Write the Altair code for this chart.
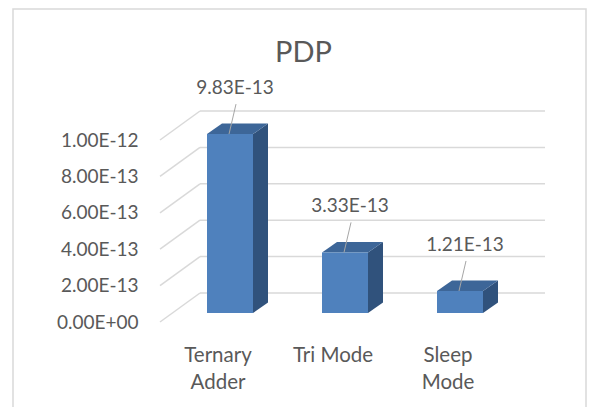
import json
import altair as alt
import pandas as pd

# ---- data ----
categories = ["Ternary Adder", "Tri Mode", "Sleep Mode"]
pdp_values = [9.83e-13, 3.33e-13, 1.21e-13]
y_ticks = [0.0, 2e-13, 4e-13, 6e-13, 8e-13, 1e-12]
title_text = "PDP"

# ---- styles ----
FONT = "Lato"
TEXT = "#595959"
GRID = "#d9d9d9"
FRONT = "#4F81BD"
TOP = "#3D6698"
SIDE = "#30527C"
LEADER = "#a6a6a6"

STEP_PX = 115
W = STEP_PX * len(categories)
H = 182
X_DOMAIN = [-0.5, len(categories) - 0.5]
Y_DOMAIN = [0, 1e-12]
HALF_BAR = 0.2
DEPTH_X = 15 / STEP_PX
DEPTH_Y = 10.5 / H * Y_DOMAIN[1]
BAR_DX, BAR_DY = 12.5, -9
WALL_DX, WALL_DY = 40, -29

idx = list(range(len(categories)))
bars = pd.DataFrame({"i": idx, "category": categories, "value": pdp_values})
faces = bars.merge(pd.DataFrame({"k": [0, 1]}), how="cross")
ticks = pd.DataFrame({"tick": y_ticks})


def wrap(label):
    return label.split(" ") if len(label) > 8 else label


x_label_expr = json.dumps([wrap(c) for c in categories]) + "[datum.value]"


def sci(expr):
    return ("replace(replace(upper(format(" + expr + ", '.2e')), "
            "regexp('E\\\\+(\\\\d)$'), 'E+0$1'), regexp('E-(\\\\d)$'), 'E-0$1')")


x_scale = alt.Scale(domain=X_DOMAIN, nice=False, zero=False)
y_scale = alt.Scale(domain=Y_DOMAIN, nice=False)

x_axis = alt.Axis(values=idx, labelExpr=x_label_expr, domain=False, ticks=False,
                  tickSize=0, grid=False, labelPadding=23.5, labelFontSize=20.5,
                  labelFont=FONT, labelColor=TEXT, labelLineHeight=27,
                  labelAngle=0, labelOverlap=False, labelFlush=False, title=None)
y_axis = alt.Axis(values=y_ticks, labelExpr=sci("datum.value"), domain=False,
                  ticks=False, tickSize=0, grid=False, labelPadding=22,
                  labelFontSize=19, labelFont=FONT, labelColor=TEXT, title=None)


def X(f):
    return alt.X(f, scale=x_scale, axis=x_axis)


def Y(f):
    return alt.Y(f, scale=y_scale, axis=y_axis, stack=False)


border = alt.Chart(pd.DataFrame({"a": [0]})).mark_rect(
    fillOpacity=0, stroke=GRID, strokeWidth=1.5
).encode(x=alt.value(-147), x2=alt.value(426), y=alt.value(-131), y2=alt.value(290))

title = alt.Chart(pd.DataFrame({"t": [title_text]})).mark_text(
    font=FONT, fontSize=29, color=TEXT, align="center", baseline="alphabetic"
).encode(text="t:N", x=alt.value(143.5), y=alt.value(-78))

diagonals = alt.Chart(ticks).transform_calculate(
    gx=str(X_DOMAIN[0])
).mark_rule(color=GRID, strokeWidth=1.5, x2Offset=WALL_DX, y2Offset=WALL_DY).encode(
    x=X("gx:Q"), x2="gx:Q", y=Y("tick:Q"), y2="tick:Q"
)

back_grid = alt.Chart(ticks).transform_calculate(
    gx0=str(X_DOMAIN[0]), gx1=str(X_DOMAIN[1])
).mark_rule(color=GRID, strokeWidth=1.5, xOffset=WALL_DX, x2Offset=WALL_DX,
            yOffset=WALL_DY).encode(x=X("gx0:Q"), x2="gx1:Q", y=Y("tick:Q"))

side = alt.Chart(faces).transform_calculate(
    sx=f"datum.i + {HALF_BAR} + datum.k * {DEPTH_X}",
    sy=f"datum.value + datum.k * {DEPTH_Y}",
    sy2=f"datum.k * {DEPTH_Y}",
).mark_area(orient="vertical", color=SIDE, xOffset=BAR_DX, yOffset=BAR_DY,
            y2Offset=BAR_DY).encode(x=X("sx:Q"), y=Y("sy:Q"), y2="sy2:Q", detail="i:N")

top = alt.Chart(faces).transform_calculate(
    tx0=f"datum.i - {HALF_BAR} + datum.k * {DEPTH_X}",
    tx1=f"datum.i + {HALF_BAR} + datum.k * {DEPTH_X}",
    ty=f"datum.value + datum.k * {DEPTH_Y}",
).mark_area(orient="horizontal", color=TOP, xOffset=BAR_DX, x2Offset=BAR_DX,
            yOffset=BAR_DY).encode(
    x=alt.X("tx0:Q", scale=x_scale, axis=x_axis, stack=False), x2="tx1:Q",
    y=alt.Y("ty:Q", scale=y_scale, axis=y_axis), detail="i:N")

front = alt.Chart(bars).transform_calculate(
    x0=f"datum.i - {HALF_BAR}", x1=f"datum.i + {HALF_BAR}"
).mark_rect(color=FRONT, xOffset=BAR_DX, x2Offset=BAR_DX, yOffset=BAR_DY,
            y2Offset=BAR_DY).encode(x=X("x0:Q"), x2="x1:Q", y=Y("value:Q"),
                                    y2=alt.datum(0))

leader = alt.Chart(bars).mark_rule(
    color=LEADER, strokeWidth=1, xOffset=BAR_DX - 1, x2Offset=BAR_DX + 6,
    yOffset=BAR_DY, y2Offset=BAR_DY - 30
).encode(x=X("i:Q"), x2="i:Q", y=Y("value:Q"), y2="value:Q")

labels = alt.Chart(bars).transform_calculate(
    label=sci("datum.value")
).mark_text(font=FONT, fontSize=19, color=TEXT, dx=BAR_DX + 5, dy=BAR_DY - 46,
            baseline="middle", align="center").encode(
    x=X("i:Q"), y=Y("value:Q"), text="label:N")

chart = alt.layer(border, title, diagonals, back_grid, side, top, front, leader,
                  labels).properties(
    width=W, height=H,
    autosize=alt.AutoSizeParams(type="none"),
    padding={"left": 152, "top": 132, "right": 82, "bottom": 85},
).configure(background="white", view=alt.ViewConfig(strokeWidth=0, stroke="transparent"))

chart.save("out.html", embed_options={"renderer": "svg", "actions": False})
